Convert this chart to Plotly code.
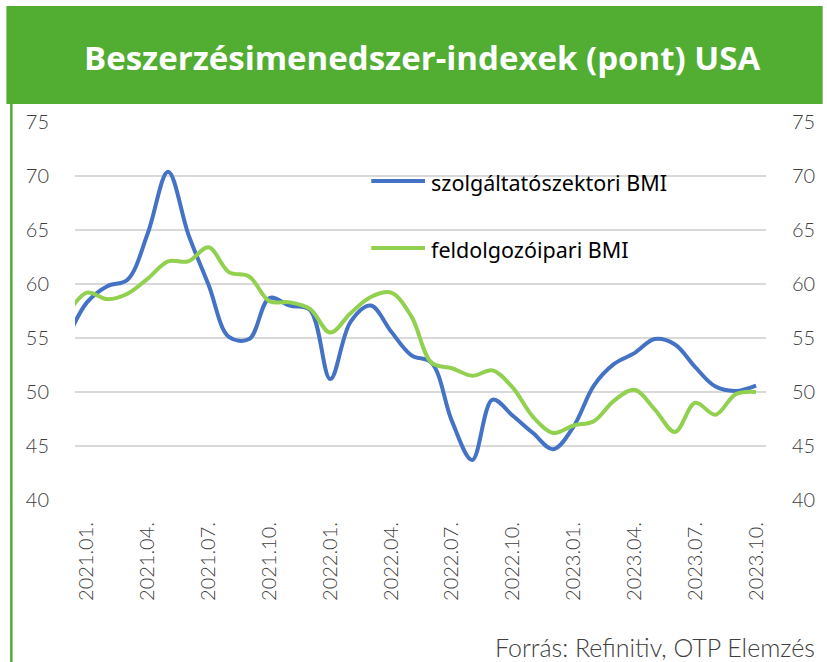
import plotly.graph_objects as go

# ---- data ----
months = ["2020.12.",
          "2021.01.", "2021.02.", "2021.03.", "2021.04.", "2021.05.", "2021.06.",
          "2021.07.", "2021.08.", "2021.09.", "2021.10.", "2021.11.", "2021.12.",
          "2022.01.", "2022.02.", "2022.03.", "2022.04.", "2022.05.", "2022.06.",
          "2022.07.", "2022.08.", "2022.09.", "2022.10.", "2022.11.", "2022.12.",
          "2023.01.", "2023.02.", "2023.03.", "2023.04.", "2023.05.", "2023.06.",
          "2023.07.", "2023.08.", "2023.09.", "2023.10."]

services_pmi = [54.8,
                58.3, 59.8, 60.4, 64.7, 70.4, 64.6,
                59.9, 55.1, 54.9, 58.7, 58.0, 57.6,
                51.2, 56.5, 58.0, 55.6, 53.4, 52.7,
                47.3, 43.7, 49.3, 47.8, 46.2, 44.7,
                46.8, 50.6, 52.6, 53.6, 54.9, 54.4,
                52.3, 50.5, 50.1, 50.6]

manufacturing_pmi = [57.1,
                     59.2, 58.6, 59.1, 60.5, 62.1, 62.1,
                     63.4, 61.1, 60.7, 58.4, 58.3, 57.7,
                     55.5, 57.3, 58.8, 59.2, 57.0, 52.7,
                     52.2, 51.5, 52.0, 50.4, 47.7, 46.2,
                     46.9, 47.3, 49.2, 50.2, 48.4, 46.3,
                     49.0, 47.9, 49.8, 50.0]

series_names = ["szolgáltatószektori BMI", "feldolgozóipari BMI"]
tick_labels = ["2021.01.", "2021.04.", "2021.07.", "2021.10.", "2022.01.", "2022.04.",
               "2022.07.", "2022.10.", "2023.01.", "2023.04.", "2023.07.", "2023.10."]
y_ticks = [40, 45, 50, 55, 60, 65, 70, 75]
title_text = "Beszerzésimenedszer-indexek (pont) USA"
source_text = "Forrás: Refinitiv, OTP Elemzés"

# ---- styling ----
W, H = 827, 662
L, R, T, B = 75, 57, 122, 162
PW, PH = W - L - R, H - T - B
BLUE = "#4472C4"
LGREEN = "#92D050"
BANNER = "#52AE32"
TXT = "#404040"
GRID = "#D9D9D9"

def px(x):
    return (x - L) / PW

def py(y):
    return (H - B - y) / PH

xpos = list(range(-1, len(months) - 1))  # month index, 2021.01 = 0
tick_pos = [xpos[months.index(t)] for t in tick_labels]

fig = go.Figure()
fig.add_trace(go.Scatter(x=xpos, y=services_pmi, mode="lines", name=series_names[0],
                         line=dict(color=BLUE, width=4, shape="spline", smoothing=1.0),
                         showlegend=False))
fig.add_trace(go.Scatter(x=xpos, y=manufacturing_pmi, mode="lines", name=series_names[1],
                         line=dict(color=LGREEN, width=4, shape="spline", smoothing=1.0),
                         showlegend=False))
# invisible trace to activate right axis
fig.add_trace(go.Scatter(x=[xpos[0]], y=[None], yaxis="y2", showlegend=False, hoverinfo="skip"))

tickfont = dict(family="Lato, 'Open Sans', sans-serif", size=20, color=TXT, weight=300)

fig.update_layout(
    width=W, height=H,
    margin=dict(l=L, r=R, t=T, b=B, pad=0),
    paper_bgcolor="white", plot_bgcolor="white",
    xaxis=dict(range=[-0.59, 33.49], tickmode="array", tickvals=tick_pos, ticktext=tick_labels,
               tickangle=-90, tickfont=dict(family="Lato, 'Open Sans', sans-serif", size=20,
                                            color=TXT, weight=300),
               showgrid=False, zeroline=False, showline=False, ticks="", ticklabelstandoff=17),
    yaxis=dict(range=[40, 75], tickvals=y_ticks, showgrid=True, gridcolor=GRID, gridwidth=2,
               zeroline=False, showline=False, ticks="", tickfont=tickfont,
               ticklabelstandoff=25),
    yaxis2=dict(range=[40, 75], tickvals=y_ticks, overlaying="y", side="right",
                showgrid=False, zeroline=False, showline=False, ticks="", tickfont=tickfont,
                ticklabelstandoff=25),
    shapes=[
        dict(type="rect", xref="paper", yref="paper", x0=px(6), x1=px(827), y0=py(104), y1=py(6),
             fillcolor=BANNER, line=dict(width=0), layer="below"),
        dict(type="line", xref="paper", yref="paper", x0=px(11), x1=px(11), y0=py(104), y1=py(662),
             line=dict(color=BANNER, width=2.5)),
        dict(type="line", xref="paper", yref="paper", x0=px(373), x1=px(427), y0=py(181), y1=py(181),
             line=dict(color=BLUE, width=4)),
        dict(type="line", xref="paper", yref="paper", x0=px(373), x1=px(427), y0=py(248), y1=py(248),
             line=dict(color=LGREEN, width=4)),
    ],
    annotations=[
        dict(text=title_text, xref="paper", yref="paper", x=px(424), y=py(57), showarrow=False,
             xanchor="center", yanchor="middle",
             font=dict(family="'Open Sans', Lato, sans-serif", size=33, color="white",
                       weight="bold")),
        dict(text=series_names[0], xref="paper", yref="paper", x=px(431), y=py(182), showarrow=False,
             xanchor="left", yanchor="middle",
             font=dict(family="'Noto Sans', 'Open Sans', sans-serif", size=21.5, color="black")),
        dict(text=series_names[1], xref="paper", yref="paper", x=px(431), y=py(249), showarrow=False,
             xanchor="left", yanchor="middle",
             font=dict(family="'Noto Sans', 'Open Sans', sans-serif", size=21.5, color="black")),
        dict(text=source_text, xref="paper", yref="paper", x=px(821), y=py(647), showarrow=False,
             xanchor="right", yanchor="middle",
             font=dict(family="Lato, 'Open Sans', sans-serif", size=25, color=TXT, weight=300)),
    ],
)

fig.write_html("out.html", config={"displayModeBar": False},
               post_script="document.body.style.margin='0';")
